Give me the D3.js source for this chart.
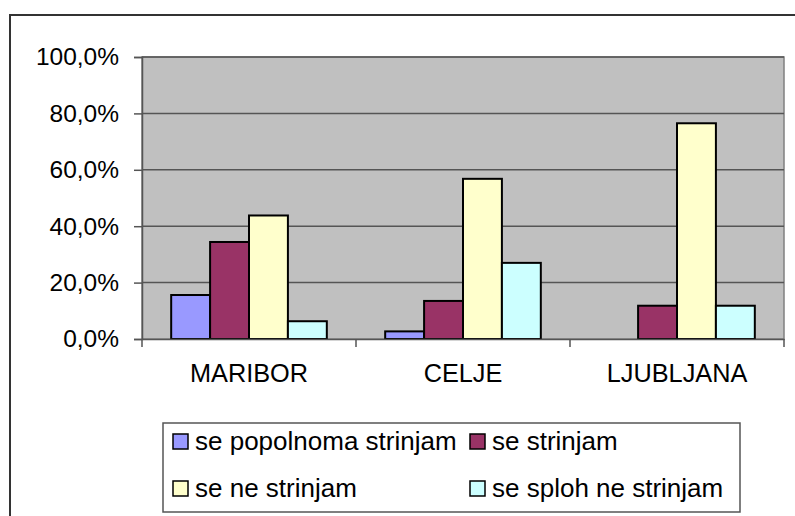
<!DOCTYPE html>
<html>
<head>
<meta charset="utf-8">
<script src="https://cdn.jsdelivr.net/npm/d3@7"></script>
<style>
  html, body { margin: 0; padding: 0; background: #fff; }
  svg { display: block; }
  text { font-family: "Liberation Sans", Arial, sans-serif; fill: #000; }
</style>
</head>
<body>
<svg id="chart" width="795" height="516"></svg>
<script>
const categories = ["MARIBOR", "CELJE", "LJUBLJANA"];
const seriesNames = ["se popolnoma strinjam", "se strinjam", "se ne strinjam", "se sploh ne strinjam"];
const seriesColors = ["#9999FF", "#993366", "#FFFFCC", "#CCFFFF"];
const popolnoma = [0.156, 0.027, 0.0];
const strinjam = [0.344, 0.135, 0.118];
const neStrinjam = [0.438, 0.568, 0.765];
const splohNe = [0.063, 0.270, 0.118];
const yTicks = [0, 0.2, 0.4, 0.6, 0.8, 1.0];
const yTickLabels = ["0,0%", "20,0%", "40,0%", "60,0%", "80,0%", "100,0%"];

const seriesValues = [popolnoma, strinjam, neStrinjam, splohNe];

const svg = d3.select("#chart");
const plot = { left: 142, right: 784, top: 57, bottom: 339 };

// outer chart border (extends beyond the visible window)
svg.append("rect")
  .attr("x", 10).attr("y", 15)
  .attr("width", 800).attr("height", 520)
  .attr("fill", "#fff").attr("stroke", "#333").attr("stroke-width", 2);

const x = d3.scaleBand().domain(categories).range([plot.left, plot.right]).paddingInner(0).paddingOuter(0);
const xs = d3.scaleBand().domain(seriesNames).range([0, x.bandwidth()]).paddingInner(0).paddingOuter(0.75);
const y = d3.scaleLinear().domain([0, 1]).range([plot.bottom, plot.top]);

// plot area
svg.append("rect")
  .attr("x", plot.left).attr("y", plot.top)
  .attr("width", plot.right - plot.left).attr("height", plot.bottom - plot.top)
  .attr("fill", "#C0C0C0").attr("stroke", "#808080").attr("stroke-width", 1.5);

// gridlines
svg.append("g").selectAll("line").data(yTicks.filter(d => d > 0)).join("line")
  .attr("x1", plot.left).attr("x2", plot.right)
  .attr("y1", d => y(d)).attr("y2", d => y(d))
  .attr("stroke", "#555").attr("stroke-width", 1.5);

// y axis
const yAxis = d3.axisLeft(y).tickValues(yTicks).tickSize(8).tickPadding(15)
  .tickFormat((d, i) => yTickLabels[i]);
const gy = svg.append("g").attr("transform", `translate(${plot.left},0)`).call(yAxis);
gy.select(".domain").attr("stroke", "#555").attr("stroke-width", 1.5);
gy.selectAll(".tick line").attr("stroke", "#555").attr("stroke-width", 1.5);
gy.selectAll(".tick text").attr("font-size", 24.5).attr("font-family", "Liberation Sans, Arial, sans-serif").attr("fill", "#000");

// bars
const series = seriesNames.map((name, si) => ({ name, color: seriesColors[si], values: seriesValues[si] }));
const groups = svg.append("g").selectAll("g").data(series).join("g").attr("fill", d => d.color);
groups.selectAll("rect")
  .data(s => s.values.map((v, ci) => ({ s: s.name, c: categories[ci], v })).filter(d => d.v > 0))
  .join("rect")
  .attr("x", d => x(d.c) + xs(d.s))
  .attr("width", xs.bandwidth())
  .attr("y", d => y(d.v))
  .attr("height", d => y(0) - y(d.v))
  .attr("stroke", "#000").attr("stroke-width", 2);

// x axis
const xAxis = d3.axisBottom(x).tickSize(0).tickPadding(25);
const gx = svg.append("g").attr("transform", `translate(0,${plot.bottom})`).call(xAxis);
gx.select(".domain").attr("stroke", "#555").attr("stroke-width", 1.5);
gx.selectAll(".tick text").attr("font-size", 25.3).attr("font-family", "Liberation Sans, Arial, sans-serif").attr("fill", "#000");
// category separator ticks
const bounds = categories.map(c => x(c)).concat([plot.right]);
gx.append("g").selectAll("line").data(bounds).join("line")
  .attr("x1", d => d).attr("x2", d => d)
  .attr("y1", 0).attr("y2", 8)
  .attr("stroke", "#555").attr("stroke-width", 1.5);

// legend
const legend = svg.append("g");
legend.append("rect")
  .attr("x", 163).attr("y", 423).attr("width", 577).attr("height", 89)
  .attr("fill", "#fff").attr("stroke", "#555").attr("stroke-width", 1.5);
const legPos = [[173, 441], [470, 441], [173, 488], [470, 488]];
const items = legend.selectAll("g.item").data(series).join("g")
  .attr("class", "item")
  .attr("transform", (d, i) => `translate(${legPos[i][0]},${legPos[i][1]})`);
items.append("rect")
  .attr("x", 0).attr("y", -7).attr("width", 15).attr("height", 15)
  .attr("fill", d => d.color).attr("stroke", "#000").attr("stroke-width", 1.5);
items.append("text")
  .attr("x", 22).attr("y", 0).attr("dy", "0.35em")
  .attr("font-size", 26)
  .text(d => d.name);
</script>
</body>
</html>
